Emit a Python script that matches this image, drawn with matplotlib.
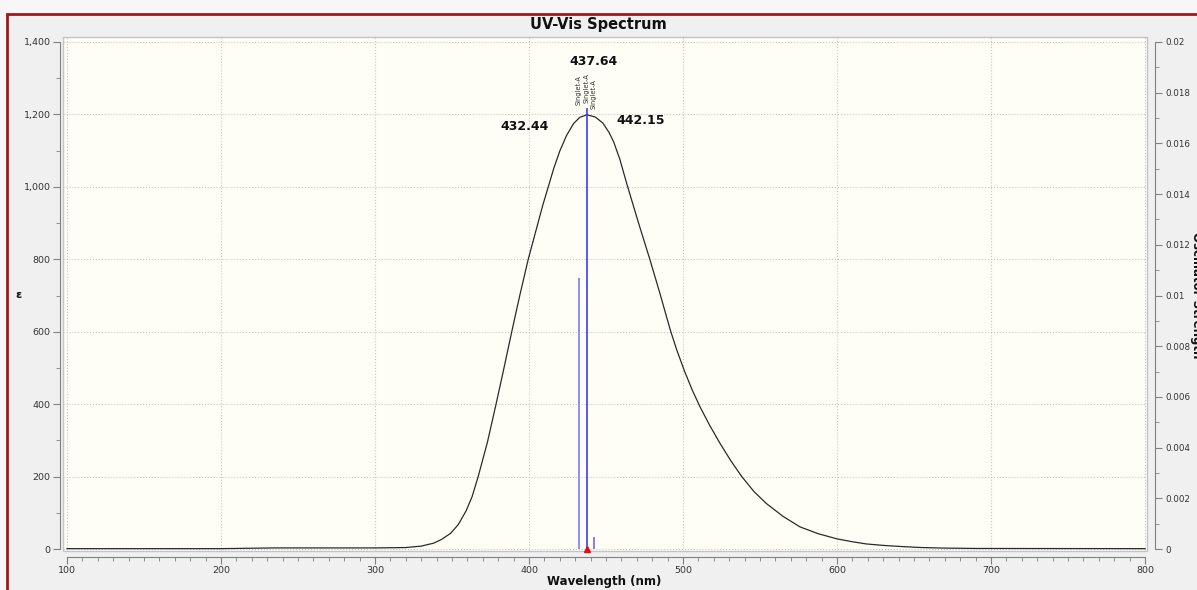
#!/usr/bin/python

import matplotlib
matplotlib.use("Agg")
import matplotlib.pyplot as plt
from matplotlib.patches import Rectangle
from matplotlib.ticker import MultipleLocator, FuncFormatter

# broadened spectrum
wavelength = [100, 200, 235, 300, 320, 330, 338, 343, 349, 354, 359, 363, 367,
              373, 378.6, 383, 388.8, 394, 399.5, 405.5, 409, 412.5, 416, 420,
              424.5, 429, 433, 437.6, 443, 448, 452, 455, 459, 463.4, 471, 478.6,
              485, 491.8, 496, 501, 506, 511, 517, 524, 531, 538, 546, 554, 565,
              576, 588, 600, 610, 619, 630, 641, 655, 670, 690, 800]
epsilon = [1, 1, 3, 3, 4, 8, 16, 26, 43, 67, 104, 144, 200,
           295, 400, 485, 600, 700, 800, 895, 950, 1000, 1050, 1099,
           1143, 1175, 1192, 1199, 1193, 1176, 1150, 1124, 1076, 1010, 902, 798,
           706, 604, 549, 491, 439, 393, 344, 292, 244, 201, 159, 126, 90,
           61, 42, 28, 20, 14, 10, 7, 4, 2.5, 1.5, 1]

# excited states
stick_nm = [432.44, 437.64, 442.15]
stick_f = [0.0107, 0.0174, 0.00047]
stick_names = ["Singlet-A", "Singlet-A", "Singlet-A"]

W, H = 1197, 590


def main():
    fig = plt.figure(figsize=(W / 100, H / 100), dpi=100, facecolor="#f7f7f7")
    fig.patches.append(Rectangle((7 / W, -0.05), 1.1, (H - 14) / H + 0.05,
                                 transform=fig.transFigure, facecolor="#f0f0f0",
                                 edgecolor="#a01818", lw=2, zorder=-10))

    ax = fig.add_axes([63 / W, (H - 551) / H, (1147 - 63) / W, (551 - 37) / H])
    ax.set_facecolor("#fefef6")
    ax.patch.set_edgecolor("#c4c4c4")
    ax.patch.set_linewidth(1)

    ax.plot(wavelength, epsilon, color="#2a2a2a", lw=0.9)

    ax.set_xlim(97.4, 801.3)
    ax.set_ylim(-5.5, 1413.8)
    ax.xaxis.set_major_locator(MultipleLocator(100))
    ax.xaxis.set_minor_locator(MultipleLocator(10))
    ax.yaxis.set_major_locator(MultipleLocator(200))
    ax.yaxis.set_minor_locator(MultipleLocator(100))
    ax.yaxis.set_major_formatter(FuncFormatter(lambda v, p: f"{int(round(v)):,}"))
    ax.grid(True, which="major", linestyle=":", color="#c8c8c8", lw=0.8)

    for s in ["top", "right"]:
        ax.spines[s].set_visible(False)
    ax.spines["left"].set_position(("outward", 2))
    ax.spines["bottom"].set_position(("outward", 4))
    ax.spines["left"].set_bounds(0, 1400)
    ax.spines["bottom"].set_bounds(100, 800)
    for s in ["left", "bottom"]:
        ax.spines[s].set_color("#808080")
    ax.tick_params(which="both", direction="out", color="#808080",
                   labelsize=6.8, labelcolor="#333333")
    ax.tick_params(which="major", length=5, pad=2)
    ax.tick_params(which="minor", length=3)

    ax2 = ax.twinx()
    ax2.set_ylim(-5.5 / 1400 * 0.02, 1413.8 / 1400 * 0.02)
    ax2.patch.set_visible(False)
    for s in ["top", "left", "bottom"]:
        ax2.spines[s].set_visible(False)
    ax2.spines["right"].set_position(("outward", 6))
    ax2.spines["right"].set_bounds(0, 0.02)
    ax2.spines["right"].set_color("#808080")
    ax2.yaxis.set_major_locator(MultipleLocator(0.002))
    ax2.yaxis.set_minor_locator(MultipleLocator(0.001))
    ax2.yaxis.set_major_formatter(FuncFormatter(lambda v, p: f"{v:g}"))
    ax2.tick_params(which="both", direction="out", color="#808080",
                    labelsize=6.3, labelcolor="#333333")
    ax2.tick_params(which="major", length=5, pad=2)
    ax2.tick_params(which="minor", length=3)

    colors = ["#7c7cf2", "#3c3cff", "#6a6af0"]
    ax2.vlines(stick_nm, 0, stick_f, colors=colors, lw=1.2)
    ax2.plot([stick_nm[1]], [0], marker="^", color="#e01010", ms=4,
             clip_on=False, zorder=5)

    label_y = [0.017515, 0.017594, 0.017357]
    for x, y, name in zip(stick_nm, label_y, stick_names):
        ax2.text(x, y, name, rotation=90, ha="center", va="bottom",
                 fontsize=4.8, color="#333333")

    ax.text(441.6, 1345, "437.64", ha="center", va="center",
            fontsize=9, fontweight="bold", color="#111111")
    ax.text(397.4, 1168, "432.44", ha="center", va="center",
            fontsize=9, fontweight="bold", color="#111111")
    ax.text(472.7, 1182, "442.15", ha="center", va="center",
            fontsize=9, fontweight="bold", color="#111111")

    fig.text(598 / W, 1 - 25 / H, "UV-Vis Spectrum", ha="center", va="center",
             fontsize=10.5, fontweight="bold", color="#111111")
    fig.text(604 / W, 1 - 581 / H, "Wavelength (nm)", ha="center", va="center",
             fontsize=8.5, fontweight="bold", color="#111111")
    fig.text(18 / W, 1 - 295 / H, "ε", ha="center", va="center",
             fontsize=8, fontweight="bold", color="#111111")
    fig.text(1196 / W, 1 - 295 / H, "Oscillator Strength", rotation=270,
             ha="center", va="center", fontsize=8.5, fontweight="bold",
             color="#111111")

    fig.savefig("out.png", dpi=100, facecolor=fig.get_facecolor())


if __name__ == "__main__":
    main()
